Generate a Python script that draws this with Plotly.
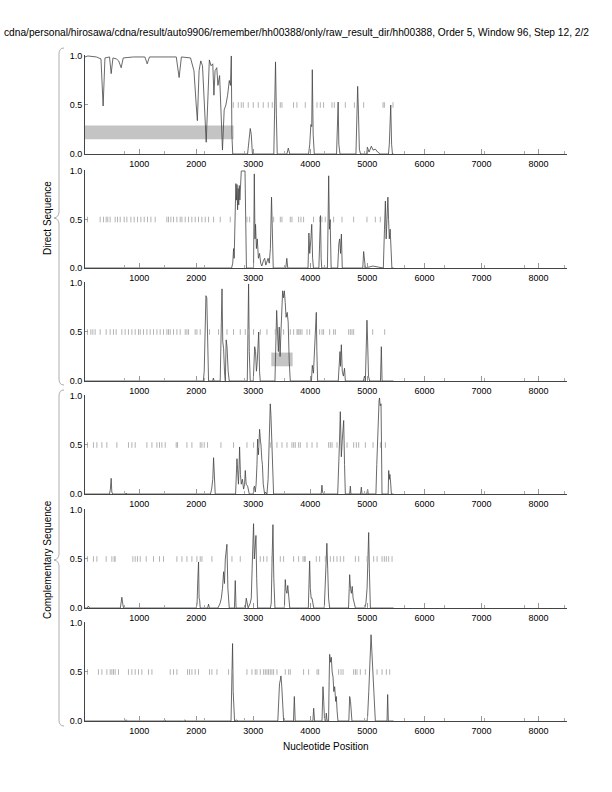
import plotly.graph_objects as go

W, H = 612, 792

# ---------------- data ----------------
p1_x = [50,100,250,330,368,400,480,509,540,600,640,684,720,900,1100,1140,1180,1500,1650,1700,1740,1900,1960,2000,2020,2050,2080,2110,2150,2175,2200,2230,2260,2290,2310,2330,2360,2380,2410,2440,2460,2490,2520,2550,2580,2600,2615,2625,2640,2900,2930,2947,2965,2985,3360,3375,3390,3405,3420,3590,3614,3640,3970,3990,4010,4025,4035,4050,4070,4460,4478,4488,4500,4520,4800,4815,4830,4845,4860,4880,4990,5000,5030,5070,5100,5140,5180,5230,5370,5385,5400,5410,5425,5440,5460]
p1_y = [0.99,1.0,0.99,0.97,0.49,0.98,0.99,0.82,0.98,0.97,0.95,0.88,0.98,0.99,0.99,0.92,0.99,0.99,0.99,0.78,0.99,0.98,0.85,0.5,0.34,0.85,0.95,0.9,0.4,0.12,0.5,0.96,0.9,0.92,0.6,0.85,0.88,0.7,0.8,0.3,0.04,0.45,0.5,0.6,0.75,0.7,1.0,0.2,0.0,0.0,0.15,0.26,0.2,0.0,0.0,0.5,0.94,0.4,0.0,0.0,0.06,0.0,0.0,0.1,0.3,0.28,0.86,0.2,0.0,0.0,0.35,0.53,0.1,0.0,0.0,0.3,0.69,0.4,0.05,0.0,0.0,0.07,0.02,0.08,0.04,0.05,0.02,0.0,0.0,0.1,0.3,0.5,0.1,0.0,0.0]

p2_x = [50,2620,2640,2655,2665,2680,2695,2705,2715,2725,2735,2745,2755,2765,2775,2790,2855,2865,2880,3005,3018,3030,3040,3055,3070,3090,3110,3130,3150,3180,3200,3220,3260,3280,3300,3320,3335,3350,3570,3588,3605,3960,3975,3990,4010,4025,4040,4055,4150,4165,4178,4190,4200,4300,4312,4322,4335,4348,4365,4480,4500,4515,4530,4545,4560,4920,4935,4950,4965,5095,5280,5300,5316,5330,5345,5360,5372,5385,5400,5415,5430,5460]
p2_y = [0,0,0.05,0.2,0.1,0.6,0.87,0.7,0.86,0.6,0.82,0.65,0.85,0.7,0.9,1.0,1.0,0.5,0.0,0.0,0.97,0.3,0.45,0.2,0.3,0.1,0.15,0.05,0.02,0.08,0.1,0.03,0.1,0.05,0.2,0.73,0.3,0.0,0.0,0.1,0.0,0.0,0.36,0.15,0.3,0.45,0.1,0.0,0.0,0.3,0.54,0.1,0.0,0.0,0.6,0.95,0.4,0.5,0.0,0.0,0.25,0.3,0.15,0.35,0.0,0.0,0.17,0.05,0.0,0.02,0.0,0.4,0.69,0.3,0.5,0.73,0.5,0.3,0.4,0.2,0.0,0.0]

p3_x = [50,2125,2140,2158,2170,2185,2200,2216,2290,2300,2315,2420,2440,2452,2465,2480,2495,2510,2525,2540,2560,2579,2895,2910,2918,2930,2947,3000,3010,3025,3040,3055,3070,3085,3095,3110,3122,3380,3395,3410,3425,3440,3455,3470,3485,3500,3515,3530,3545,3560,3575,3595,3612,3630,3649,4020,4035,4055,4075,4090,4105,4115,4128,4490,4505,4520,4530,4544,4560,4580,4600,4614,4930,4950,4965,4980,4993,5005,5020,5040,5230,5245,5258,5460]
p3_y = [0,0,0.1,0.5,0.87,0.85,0.3,0.0,0.0,0.03,0.0,0.0,0.6,0.94,0.4,0.33,0.1,0.0,0.42,0.35,0.1,0.0,0.0,0.5,0.99,0.3,0.0,0.0,0.2,0.35,0.3,0.1,0.2,0.45,0.5,0.1,0.0,0.0,0.4,0.72,0.5,0.3,0.55,0.25,0.5,0.75,0.92,0.85,0.92,0.8,0.65,0.7,0.6,0.2,0.0,0.0,0.16,0.08,0.3,0.5,0.7,0.3,0.0,0.0,0.2,0.3,0.15,0.37,0.1,0.05,0.13,0.0,0.0,0.05,0.0,0.3,0.62,0.4,0.05,0.0,0.0,0.35,0.0,0.0]

p4_x = [50,480,495,509,520,535,760,772,785,2250,2270,2290,2304,2318,2333,2690,2705,2714,2725,2740,2752,2760,2775,2790,2810,2830,2848,2860,2875,2901,2930,3000,3010,3020,3035,3050,3065,3076,3090,3111,3125,3135,3150,3160,3175,3190,3199,3215,3240,3260,3275,3285,3298,3310,3327,3340,3356,4190,4204,4215,4230,4480,4495,4510,4526,4535,4544,4560,4572,4585,4600,4614,4690,4702,4712,4880,4895,4905,4990,5005,5015,5150,5165,5180,5195,5205,5213,5225,5240,5250,5257,5365,5374,5385,5395,5410,5421,5460]
p4_y = [0,0,0.05,0.16,0.02,0.0,0.0,0.01,0.0,0.0,0.05,0.15,0.37,0.1,0.0,0.0,0.2,0.36,0.25,0.1,0.3,0.48,0.2,0.1,0.15,0.05,0.1,0.24,0.1,0.08,0.0,0.0,0.06,0.08,0.02,0.1,0.3,0.56,0.4,0.66,0.55,0.5,0.35,0.3,0.1,0.05,0.0,0.02,0.0,0.15,0.4,0.7,0.92,0.8,0.5,0.15,0.0,0.0,0.09,0.02,0.0,0.0,0.2,0.5,0.84,0.6,0.38,0.55,0.7,0.75,0.3,0.0,0.0,0.08,0.0,0.0,0.07,0.0,0.0,0.05,0.0,0.0,0.3,0.6,0.85,0.95,0.98,0.9,0.92,0.6,0.0,0.0,0.24,0.15,0.2,0.1,0.0,0.0]

p5_x = [50,90,110,130,670,685,696,710,725,2000,2015,2028,2041,2050,2060,2070,2200,2216,2230,2380,2400,2420,2440,2460,2480,2495,2510,2525,2538,2555,2579,2670,2684,2698,2860,2877,2890,2910,2947,2965,2980,2995,3005,3018,3032,3047,3060,3076,3300,3315,3330,3345,3360,3380,3545,3561,3575,3590,3605,3620,3640,3965,3975,3988,4000,4015,4030,4045,4060,4245,4260,4275,4290,4305,4320,4339,4670,4682,4690,4705,4720,4735,4750,4790,4955,4975,4995,5010,5023,5035,5053,5460]
p5_y = [0,0.0,0.02,0.0,0.0,0.06,0.11,0.05,0.0,0.0,0.05,0.3,0.47,0.1,0.08,0.0,0.0,0.04,0.0,0.0,0.02,0.05,0.1,0.2,0.37,0.25,0.5,0.6,0.65,0.2,0.0,0.0,0.28,0.0,0.0,0.1,0.05,0.0,0.05,0.1,0.4,0.7,0.86,0.5,0.6,0.74,0.3,0.0,0.0,0.05,0.5,0.85,0.3,0.0,0.0,0.29,0.18,0.15,0.23,0.1,0.0,0.0,0.2,0.48,0.2,0.1,0.1,0.05,0.0,0.0,0.2,0.45,0.66,0.4,0.1,0.0,0.0,0.2,0.34,0.2,0.15,0.22,0.1,0.0,0.0,0.05,0.2,0.5,0.77,0.4,0.0,0.0]

p6_x = [50,740,770,800,1420,1450,1480,1780,1800,1830,2610,2620,2628,2637,2648,2660,2672,2700,2740,3430,3444,3460,3475,3485,3500,3515,3532,3705,3720,3735,4045,4059,4075,4205,4215,4222,4235,4250,4270,4280,4295,4320,4330,4339,4355,4368,4383,4398,4412,4427,4445,4456,4470,4485,4675,4690,4705,4718,4730,4995,5005,5025,5045,5058,5065,5080,5090,5100,5120,5140,5345,5356,5368,5460]
p6_y = [0,0.0,0.01,0.0,0.0,0.01,0.0,0.0,0.01,0.0,0.0,0.2,0.43,0.79,0.3,0.05,0.0,0.01,0.0,0.0,0.3,0.38,0.42,0.46,0.35,0.2,0.0,0.0,0.25,0.0,0.0,0.13,0.0,0.0,0.2,0.35,0.2,0.0,0.0,0.08,0.0,0.0,0.4,0.68,0.6,0.65,0.5,0.45,0.3,0.35,0.2,0.25,0.1,0.0,0.0,0.25,0.2,0.05,0.0,0.0,0.05,0.3,0.6,0.8,0.88,0.7,0.6,0.5,0.2,0.0,0.0,0.27,0.0,0.0]

stops1 = [2650,2737,2790,2825,2912,3000,3088,3175,3263,3333,3474,3503,3706,3765,3912,4117,4175,4233,4380,4421,4614,4772,4935,5275,5298,5449]
stops2 = [93,316,374,421,450,491,579,620,667,737,784,854,912,971,1030,1088,1146,1205,1280,1485,1514,1556,1602,1661,1719,1749,1807,1865,1923,1982,2040,2099,2158,2216,2304,2421,2596,2889,2936,3357,3474,3503,3649,3678,3795,3836,3882,4057,4163,4204,4262,4409,4555,4759,4993,5140,5227]
stops3 = [93,153,188,228,316,421,491,549,596,696,754,812,872,930,988,1018,1075,1135,1193,1251,1311,1368,1426,1486,1514,1544,1602,1661,1719,1807,1837,1865,1982,2012,2070,2233,2391,2539,2654,2772,2860,2918,3005,3123,3240,3386,3532,3649,3707,3767,3784,3802,3825,3854,3942,3988,4163,4205,4233,4339,4409,4439,4672,4702,4731,4760,5093,5304]
stops4 = [93,198,258,346,433,609,812,872,930,1135,1223,1311,1356,1398,1456,1649,1672,1837,1924,2070,2100,2140,2198,2433,2654,2889,3005,3093,3298,3415,3503,3591,3678,3708,3737,3795,3825,3942,4030,4118,4321,4351,4381,4468,4644,4760,4807,4848,4965,5100,5228,5316]
stops5 = [93,198,258,421,521,561,579,889,930,970,1018,1123,1251,1356,1426,1661,1749,1837,1924,2012,2070,2100,2275,2626,2772,3123,3181,3240,3327,3474,3532,3707,3795,3872,3895,3912,4105,4163,4263,4351,4409,4468,4526,4585,4790,4848,4995,5111,5170,5258,5298,5333,5374,5433]
stops6 = [93,286,346,433,491,521,549,579,637,812,872,930,988,1047,1164,1223,1544,1602,1661,1848,1882,1924,1982,2040,2233,2275,2363,2567,2626,2889,2977,3035,3065,3123,3181,3211,3240,3268,3298,3327,3356,3415,3561,3620,3649,3882,3970,4118,4146,4496,4538,4574,4760,4790,4819,4877,4965,5170,5258,5333,5392]

gene_panel = [1, 3]
gene_start = [50, 3316]
gene_end = [2655, 3690]

x_tick_vals = [1000, 2000, 3000, 4000, 5000, 6000, 7000, 8000]
y_tick_vals = [0.0, 0.5, 1.0]
y_tick_text = ["0.0", "0.5", "1.0"]

title_text = "cdna/personal/hirosawa/cdna/result/auto9906/remember/hh00388/only/raw_result_dir/hh00388, Order 5, Window 96, Step 12, 2/2"
x_title = "Nucleotide Position"
group_labels = ["Direct Sequence", "Complementary Sequence"]

# ---------------- layout ----------------
FONT = "Liberation Sans"
curves = [(p1_x, p1_y), (p2_x, p2_y), (p3_x, p3_y), (p4_x, p4_y), (p5_x, p5_y), (p6_x, p6_y)]
stops = [stops1, stops2, stops3, stops4, stops5, stops6]
panel_px = [(55, 154), (170, 268), (282, 381), (395, 494), (509, 608), (622, 721)]
X0, X1 = 85, 567

fig = go.Figure()
layout = dict(width=W, height=H, margin=dict(l=0, r=0, t=0, b=0, autoexpand=False),
              paper_bgcolor="white", plot_bgcolor="white", showlegend=False,
              font=dict(family=FONT, size=9, color="black"))

for i in range(6):
    n = "" if i == 0 else str(i + 1)
    xa, ya = "x" + n, "y" + n
    top, bot = panel_px[i]
    layout["xaxis" + n] = dict(
        domain=[X0 / W, X1 / W], anchor=ya, range=[50, 8500], automargin=False,
        tickvals=x_tick_vals, ticks="inside", ticklen=5, tickwidth=1, tickcolor="#999",
        minor=dict(ticks="inside", ticklen=3, tick0=50, dtick=700, tickcolor="#aaa", showgrid=False),
        showline=True, linecolor="#444", linewidth=1, showgrid=False, zeroline=False,
        tickfont=dict(size=9, family=FONT), ticklabelstandoff=1)
    layout["yaxis" + n] = dict(
        domain=[1 - bot / H, 1 - top / H], anchor=xa, range=[0, 1.01], automargin=False,
        tickvals=y_tick_vals, ticktext=y_tick_text, ticks="inside", ticklen=3,
        tickcolor="#999", showline=True, linecolor="#444", linewidth=1,
        showgrid=False, zeroline=False, tickfont=dict(size=9, family=FONT))
    cx, cy = curves[i]
    fig.add_trace(go.Scatter(x=cx, y=cy, mode="lines", xaxis=xa, yaxis=ya,
                             line=dict(color="#444444", width=0.8)))
    fig.add_trace(go.Scatter(x=stops[i], y=[0.5] * len(stops[i]), mode="markers",
                             xaxis=xa, yaxis=ya,
                             marker=dict(symbol="line-ns", size=4,
                                         line=dict(width=0.9, color="#aaaaaa"))))

shapes = []
for p, s, e in zip(gene_panel, gene_start, gene_end):
    n = "" if p == 1 else str(p)
    shapes.append(dict(type="rect", xref="x" + n, yref="y" + n, x0=s, x1=e, y0=0.15, y1=0.29,
                       fillcolor="#c4c4c4", line=dict(width=0), layer="below"))


def P(x, y):
    return f"{x / W:.5f},{1 - y / H:.5f}"


def brace(ytop, ymid, ybot, xe=64, xv=59, xt=54):
    return ("M " + P(xe, ytop) + " Q " + P(xv, ytop) + " " + P(xv, ytop + 6) +
            " L " + P(xv, ymid - 6) + " Q " + P(xv, ymid - 1) + " " + P(xt, ymid) +
            " Q " + P(xv, ymid + 1) + " " + P(xv, ymid + 6) +
            " L " + P(xv, ybot - 6) + " Q " + P(xv, ybot) + " " + P(xe, ybot))


shapes.append(dict(type="path", xref="paper", yref="paper", path=brace(48, 218, 385),
                   line=dict(color="#999999", width=0.8)))
shapes.append(dict(type="path", xref="paper", yref="paper", path=brace(390, 560, 726),
                   line=dict(color="#999999", width=0.8)))
layout["shapes"] = shapes

layout["annotations"] = [
    dict(text=title_text, xref="paper", yref="paper", x=591 / W, y=1 - 32 / H,
         xanchor="right", yanchor="middle", showarrow=False, font=dict(size=10.2, family=FONT)),
    dict(text=x_title, xref="paper", yref="paper", x=326 / W, y=1 - 746 / H,
         xanchor="center", yanchor="middle", showarrow=False, font=dict(size=10, family=FONT)),
    dict(text=group_labels[0], xref="paper", yref="paper", x=47 / W, y=1 - 218 / H,
         textangle=-90, xanchor="center", yanchor="middle", showarrow=False,
         font=dict(size=10, family=FONT)),
    dict(text=group_labels[1], xref="paper", yref="paper", x=47 / W, y=1 - 560 / H,
         textangle=-90, xanchor="center", yanchor="middle", showarrow=False,
         font=dict(size=10, family=FONT)),
]

fig.update_layout(**layout)
fig.write_html("out.html", config={"displayModeBar": False},
               post_script="document.body.style.margin='0px';document.body.style.overflow='hidden';")
